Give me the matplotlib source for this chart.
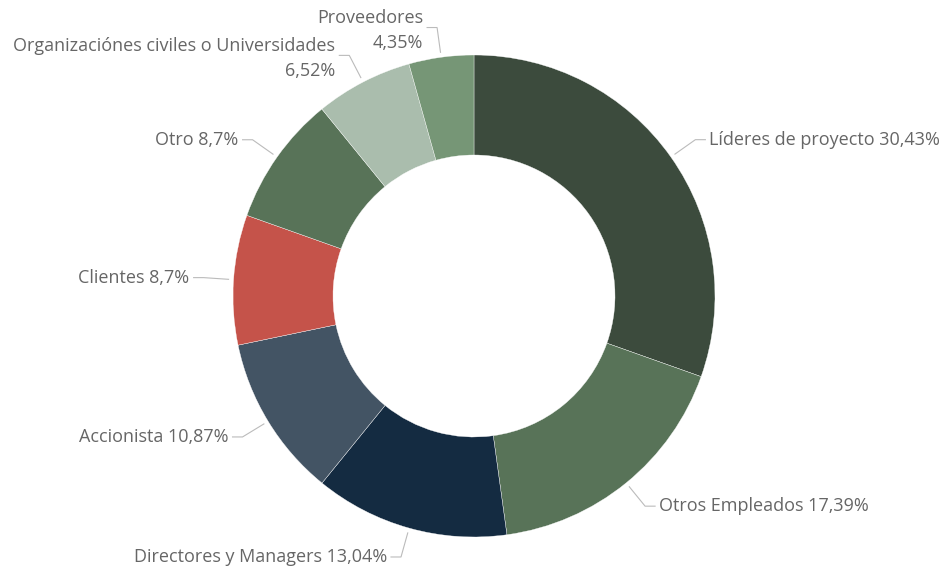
import numpy as np
import matplotlib
matplotlib.use("Agg")
import matplotlib.pyplot as plt

# chart data
names = ["Líderes de proyecto", "Otros Empleados", "Directores y Managers",
         "Accionista", "Clientes", "Otro",
         "Organizaciónes civiles o Universidades", "Proveedores"]
values = [30.43, 17.39, 13.04, 10.87, 8.7, 8.7, 6.52, 4.35]
value_labels = ["30,43%", "17,39%", "13,04%", "10,87%", "8,7%", "8,7%", "6,52%", "4,35%"]
colors = ["#3c4b3d", "#587358", "#142b41", "#435464",
          "#c5534a", "#587358", "#aabdad", "#769676"]

W, H = 944, 570
fig = plt.figure(figsize=(W / 100, H / 100), dpi=100)
ax = fig.add_axes([0, 0, 1, 1])

cx, cy = 474, H - 296
r_out = 241
ring = 100

wedges, _ = ax.pie(values, colors=colors, startangle=90, counterclock=False,
                   center=(cx, cy), radius=r_out, frame=True,
                   wedgeprops=dict(width=ring, edgecolor="white", linewidth=0.25))
ax.set_xlim(0, W)
ax.set_ylim(0, H)
ax.set_aspect("equal")
ax.axis("off")

# labels that get wrapped onto two lines (not enough room on the left)
wrap = {"Proveedores", "Organizaciónes civiles o Universidades"}

line_col = "#bbbbbb"
txt_col = "#666666"
for w, name, vl in zip(wedges, names, value_labels):
    ang = np.deg2rad((w.theta1 + w.theta2) / 2)
    c, s = np.cos(ang), np.sin(ang)
    x0, y0 = cx + (r_out + 5) * c, cy + (r_out + 5) * s
    x1, y1 = cx + (r_out + 30) * c, cy + (r_out + 30) * s
    side = 1 if c >= 0 else -1
    x2 = x1 + side * 10
    ax.plot([x0, x1, x2], [y0, y1, y1], color=line_col, lw=0.8,
            solid_joinstyle="miter")
    if name in wrap:
        label = name + "\n" + vl
        ty = y1 - 3
    else:
        label = name + " " + vl
        ty = y1
    ax.text(x2 + side * 4, ty, label, ha="left" if side > 0 else "right",
            va="center", color=txt_col, fontsize=13, family="Open Sans",
            multialignment="right", linespacing=1.5)

fig.savefig("out.png", dpi=100)
